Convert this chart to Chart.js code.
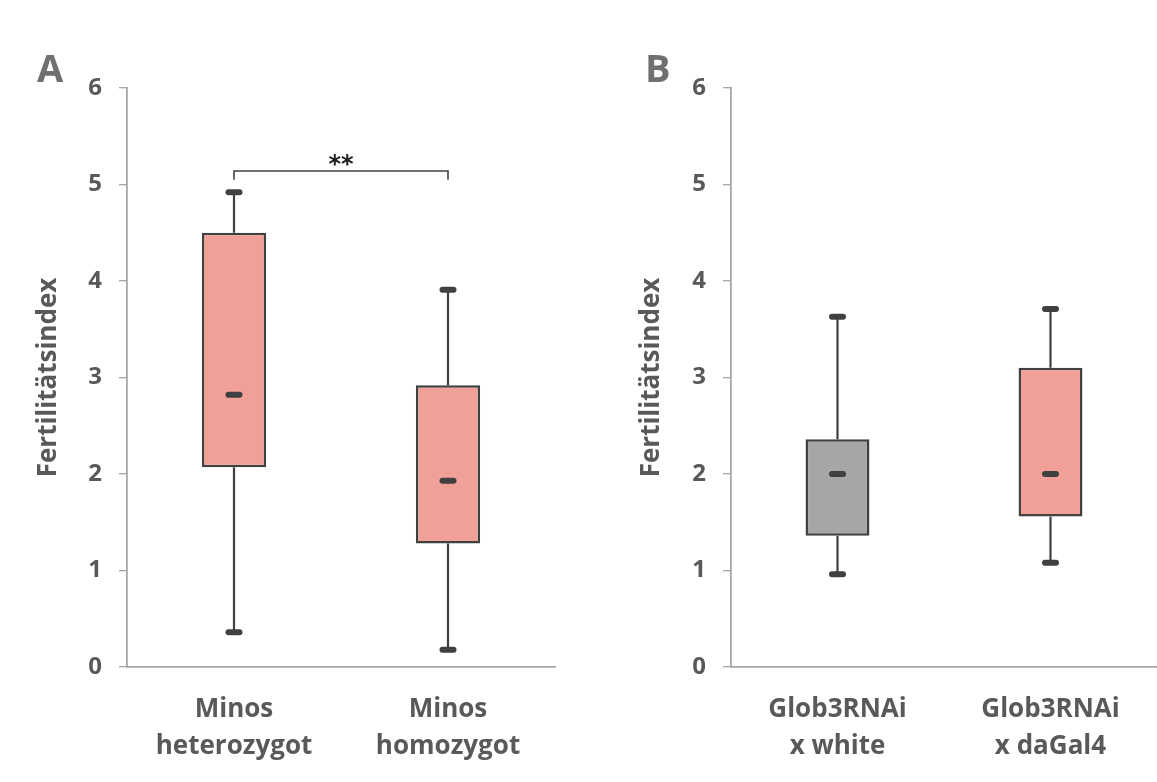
<!DOCTYPE html>
<html>
<head>
<meta charset="utf-8">
<script src="https://cdn.jsdelivr.net/npm/chart.js@4/dist/chart.umd.min.js"></script>
<style>
  html, body { margin: 0; padding: 0; background: #ffffff; }
  #wrap { position: relative; width: 1157px; height: 782px; overflow: hidden; }
  .panel { position: absolute; top: 0; height: 782px; }
  .letter { position: absolute; font-family: "Open Sans", sans-serif; font-weight: 700;
            font-size: 38px; line-height: 1; color: #707070; }
</style>
</head>
<body>
<div id="wrap">
  <div class="panel" style="left:0; width:590px;"><canvas id="chartA"></canvas></div>
  <div class="panel" style="left:590px; width:567px;"><canvas id="chartB"></canvas></div>
  <div class="letter" style="left:37px; top:48px;">A</div>
  <div class="letter" style="left:645px; top:48px;">B</div>
</div>
<script>
// ---- Data ----
const categoriesA = [['Minos', 'heterozygot'], ['Minos', 'homozygot']];
const minA    = [0.36, 0.18];
const q1A     = [2.07, 1.28];
const medianA = [2.82, 1.93];
const q3A     = [4.50, 2.92];
const maxA    = [4.92, 3.91];

const categoriesB = [['Glob3RNAi', 'x white'], ['Glob3RNAi', 'x daGal4']];
const minB    = [0.96, 1.08];
const q1B     = [1.36, 1.56];
const medianB = [2.00, 2.00];
const q3B     = [2.36, 3.10];
const maxB    = [3.63, 3.71];

const yTicks = [0, 1, 2, 3, 4, 5, 6];
const yTitle = 'Fertilitätsindex';
const significance = { from: 0, to: 1, level: 5.14, drop: 0.09, label: '**' };

const colorsA = ['#F0A096', '#F0A096'];
const colorsB = ['#A6A6A6', '#F0A096'];

// ---- Plugin: whiskers, caps, medians, significance bracket ----
const boxExtras = {
  id: 'boxExtras',
  beforeDatasetsDraw(chart, args, opts) {
    const { ctx } = chart; const xs = chart.scales.x, ys = chart.scales.y;
    ctx.save();
    ctx.strokeStyle = '#404040'; ctx.lineWidth = 2.2;
    opts.min.forEach((v, i) => {
      const px = xs.getPixelForValue(i);
      ctx.beginPath();
      ctx.moveTo(px, ys.getPixelForValue(opts.q3[i])); ctx.lineTo(px, ys.getPixelForValue(opts.max[i]));
      ctx.moveTo(px, ys.getPixelForValue(opts.q1[i])); ctx.lineTo(px, ys.getPixelForValue(opts.min[i]));
      ctx.stroke();
    });
    ctx.restore();
  },
  afterDatasetsDraw(chart, args, opts) {
    const { ctx } = chart; const xs = chart.scales.x, ys = chart.scales.y;
    ctx.save();
    ctx.strokeStyle = '#404040'; ctx.lineCap = 'round'; ctx.lineWidth = 6;
    const dash = (px, py) => { ctx.beginPath(); ctx.moveTo(px - 5.5, py); ctx.lineTo(px + 5.5, py); ctx.stroke(); };
    opts.min.forEach((v, i) => {
      const px = xs.getPixelForValue(i);
      dash(px, ys.getPixelForValue(opts.max[i]));
      dash(px, ys.getPixelForValue(opts.min[i]));
      dash(px, ys.getPixelForValue(opts.med[i]));
    });
    if (opts.sig) {
      const s = opts.sig;
      const x0 = xs.getPixelForValue(s.from), x1 = xs.getPixelForValue(s.to);
      const yl = ys.getPixelForValue(s.level), yd = ys.getPixelForValue(s.level - s.drop);
      ctx.lineCap = 'butt'; ctx.lineWidth = 1.6; ctx.strokeStyle = '#404040';
      ctx.beginPath(); ctx.moveTo(x0, yd); ctx.lineTo(x0, yl); ctx.lineTo(x1, yl); ctx.lineTo(x1, yd); ctx.stroke();
      ctx.fillStyle = '#202020'; ctx.font = 'bold 24px "DejaVu Sans"';
      ctx.textAlign = 'center'; ctx.textBaseline = 'alphabetic';
      ctx.fillText(s.label, (x0 + x1) / 2, yl + 1);
    }
    ctx.restore();
  }
};

function makeChart(id, cats, q1, q3, mn, md, mx, colors, yWidth, titlePad, padRight, sig) {
  return new Chart(document.getElementById(id), {
    type: 'bar',
    data: {
      labels: cats,
      datasets: [{
        data: q1.map((v, i) => [v, q3[i]]),
        backgroundColor: colors,
        borderColor: '#404040',
        borderWidth: 2.5,
        borderSkipped: false,
        barPercentage: 0.30,
        categoryPercentage: 1.0
      }]
    },
    options: {
      responsive: true,
      maintainAspectRatio: false,
      animation: false,
      layout: { padding: { top: 88, right: padRight, left: 0, bottom: 0 } },
      plugins: {
        legend: { display: false },
        tooltip: { enabled: false },
        boxExtras: { min: mn, q1: q1, med: md, q3: q3, max: mx, sig: sig }
      },
      scales: {
        x: {
          afterFit: s => { s.height = 115; },
          grid: { display: false },
          border: { display: true, color: '#A6A6A6', width: 1.8 },
          ticks: {
            color: '#595959', padding: 16,
            font: { family: '"Open Sans", sans-serif', size: 26, weight: 'bold', lineHeight: 1.42 }
          }
        },
        y: {
          min: 0, max: 6,
          afterFit: s => { s.width = yWidth; },
          afterBuildTicks: s => { s.ticks = yTicks.map(v => ({ value: v })); },
          grid: { display: true, drawOnChartArea: false, drawTicks: true, tickLength: 8, color: '#A6A6A6', lineWidth: 1.3 },
          border: { display: true, color: '#A6A6A6', width: 1.8 },
          ticks: {
            color: '#595959', padding: 17,
            font: { family: '"Open Sans", sans-serif', size: 24, weight: 'bold' }
          },
          title: {
            display: true, text: yTitle, color: '#595959',
            padding: { top: titlePad, bottom: 0 },
            font: { family: '"Open Sans", sans-serif', size: 26, weight: 'bold', lineHeight: 1.2 }
          }
        }
      }
    },
    plugins: [boxExtras]
  });
}

makeChart('chartA', categoriesA, q1A, q3A, minA, medianA, maxA, colorsA, 127, 33, 35, significance);
makeChart('chartB', categoriesB, q1B, q3B, minB, medianB, maxB, colorsB, 141, 46, 0, null);
</script>
</body>
</html>
